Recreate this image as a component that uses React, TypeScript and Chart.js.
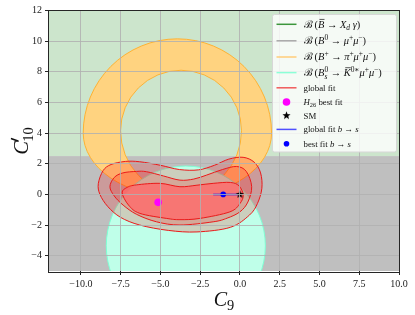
import React, { useEffect, useRef } from 'react';
import { Chart, registerables } from 'chart.js';

Chart.register(...registerables);

// ---------- data ----------
const xRange = [-12, 10];
const yRange = [-5, 12];
const xTicks = [-10, -7.5, -5, -2.5, 0, 2.5, 5, 7.5, 10];
const yTicks = [-4, -2, 0, 2, 4, 6, 8, 10, 12];

// B -> X_d gamma (green) region : C'10 between these values
const greenBand = [2.5, 12];
// B0 -> mu mu (gray) region
const grayBand = [-5, 2.5];

// boundaries: [centre C9, centre C'10, half-width C9, upper half-height, lower half-height]
const orangeOuter = [-3.93, 4.0, 5.92, 6.15, 4.15];
const orangeInner = [-3.7, 4.15, 3.8, 3.95, 4.1];
const cyanEllipse = [-3.4, -3.35, 5.0, 5.2, 5.2];

// global fit contours (outer, middle, inner)
const fit3X = [-8.9, -8.6, -8.1, -7.2, -6.3, -5.0, -3.8, -2.6, -1.6, -0.7, 0.2, 0.9, 1.3, 1.38, 1.1, 0.6, -0.6, -2.7, -4.5, -6.3, -7.5, -8.3, -8.8];
const fit3Y = [0.7, 1.55, 1.95, 2.15, 2.13, 1.9, 1.62, 1.6, 1.9, 2.3, 2.42, 2.1, 1.4, 0.4, -0.6, -1.35, -2.15, -2.45, -2.35, -2.0, -1.5, -0.8, 0.0];
const fit2X = [-8.17, -7.9, -7.36, -6.5, -5.87, -4.8, -3.77, -2.9, -2.09, -1.1, -0.21, 0.4, 0.74, 0.5, 0.0, -0.8, -1.68, -3.77, -5.24, -6.5, -7.34, -7.9];
const fit2Y = [0.5, 1.1, 1.4, 1.5, 1.48, 1.2, 0.93, 1.0, 1.26, 1.62, 1.82, 1.5, 0.5, -0.5, -1.14, -1.55, -1.79, -2.0, -1.79, -1.3, -0.7, -0.1];
const fit1X = [-7.4, -7.1, -6.5, -5.03, -3.77, -2.7, -1.68, -0.6, -0.05, 0.21, 0.0, -0.63, -2.52, -3.77, -4.6, -6.29, -7.0];
const fit1Y = [0.1, 0.45, 0.62, 0.72, 0.5, 0.6, 0.72, 0.78, 0.55, -0.05, -0.6, -1.14, -1.57, -1.65, -1.57, -1.24, -0.7];

const h26Best = [-5.14, -0.52];
const smPoint = [0, 0];
const bsLineX = [-1.68, 0];
const bsLineY = [0, 0];
const bsBest = [-1.05, 0];

type Seg = { t: string; it?: boolean; pos?: 'sup' | 'sub'; bar?: boolean; sub2?: string };

const ARROW = ' \u2192 ';
const CAL = 'ℬ\u2009';
const legendLabels: Seg[][] = [
  [{ t: CAL }, { t: '(' }, { t: 'B', it: true, bar: true }, { t: ARROW }, { t: 'X', it: true }, { t: 'd', it: true, pos: 'sub' }, { t: ' ' }, { t: 'γ', it: true }, { t: ')' }],
  [{ t: CAL }, { t: '(' }, { t: 'B', it: true }, { t: '0', pos: 'sup' }, { t: ARROW }, { t: 'μ', it: true }, { t: '+', pos: 'sup' }, { t: 'μ', it: true }, { t: '−', pos: 'sup' }, { t: ')' }],
  [{ t: CAL }, { t: '(' }, { t: 'B', it: true }, { t: '+', pos: 'sup' }, { t: ARROW }, { t: 'π', it: true }, { t: '+', pos: 'sup' }, { t: 'μ', it: true }, { t: '+', pos: 'sup' }, { t: 'μ', it: true }, { t: '−', pos: 'sup' }, { t: ')' }],
  [{ t: CAL }, { t: '(' }, { t: 'B', it: true }, { t: '0', pos: 'sup', sub2: 's' }, { t: ARROW }, { t: 'K', it: true, bar: true }, { t: '0∗', pos: 'sup' }, { t: 'μ', it: true }, { t: '+', pos: 'sup' }, { t: 'μ', it: true }, { t: '−', pos: 'sup' }, { t: ')' }],
  [{ t: 'global fit' }],
  [{ t: 'H', it: true }, { t: '26', pos: 'sub' }, { t: ' best fit' }],
  [{ t: 'SM' }],
  [{ t: 'global fit ' }, { t: 'b', it: true }, { t: ' → ' }, { t: 's', it: true }],
  [{ t: 'best fit ' }, { t: 'b', it: true }, { t: ' → ' }, { t: 's', it: true }],
];
const legendKinds = ['line', 'line', 'line', 'line', 'line', 'dot', 'star', 'line', 'dot'];
const legendColors = ['rgb(60,150,60)', 'rgb(168,168,168)', 'rgb(255,205,120)', 'rgb(140,255,215)', 'rgb(240,90,90)', '#ff00ff', '#000000', 'rgb(80,80,255)', '#0000ff'];

// ---------- helpers ----------
const FONT = '"Liberation Serif", "DejaVu Serif", serif';

function starCanvas(r: number, color: string) {
  const size = Math.ceil(r * 2 + 2);
  const c = document.createElement('canvas');
  c.width = size;
  c.height = size;
  const g = c.getContext('2d')!;
  g.fillStyle = color;
  g.beginPath();
  for (let k = 0; k < 10; k++) {
    const rad = k % 2 === 0 ? r : r * 0.42;
    const a = -Math.PI / 2 + (k * Math.PI) / 5;
    const px = size / 2 + rad * Math.cos(a);
    const py = size / 2 + rad * Math.sin(a);
    if (k === 0) g.moveTo(px, py);
    else g.lineTo(px, py);
  }
  g.closePath();
  g.fill();
  return c;
}

function segFont(s: Seg, size: number) {
  const fs = s.pos ? size * 0.72 : size;
  return `${s.it ? 'italic ' : ''}${fs}px ${FONT}`;
}

function drawRich(ctx: CanvasRenderingContext2D, segs: Seg[], x: number, y: number, size: number) {
  let cx = x;
  ctx.textBaseline = 'alphabetic';
  ctx.textAlign = 'left';
  for (const s of segs) {
    ctx.font = segFont(s, size);
    let dy = 0;
    if (s.pos === 'sup') dy = -size * 0.38;
    if (s.pos === 'sub') dy = size * 0.22;
    ctx.fillText(s.t, cx, y + dy);
    let w = ctx.measureText(s.t).width;
    if (s.sub2) {
      ctx.font = `italic ${size * 0.72}px ${FONT}`;
      ctx.fillText(s.sub2, cx, y + size * 0.3);
      w = Math.max(w, ctx.measureText(s.sub2).width);
    }
    if (s.bar) {
      ctx.save();
      ctx.strokeStyle = ctx.fillStyle as string;
      ctx.lineWidth = 0.7;
      ctx.beginPath();
      ctx.moveTo(cx + w * 0.22, y - size * 0.8);
      ctx.lineTo(cx + w * 1.02, y - size * 0.8);
      ctx.stroke();
      ctx.restore();
    }
    cx += w;
  }
  return cx - x;
}

function measureRich(ctx: CanvasRenderingContext2D, segs: Seg[], size: number) {
  let w = 0;
  for (const s of segs) {
    ctx.font = segFont(s, size);
    let ww = ctx.measureText(s.t).width;
    if (s.sub2) {
      ctx.font = `italic ${size * 0.72}px ${FONT}`;
      ww = Math.max(ww, ctx.measureText(s.sub2).width);
    }
    w += ww;
  }
  return w;
}

function closedCurve(ctx: CanvasRenderingContext2D, p: { x: number; y: number }[]) {
  const n = p.length;
  ctx.moveTo(p[0].x, p[0].y);
  for (let i = 0; i < n; i++) {
    const p0 = p[(i - 1 + n) % n];
    const p1 = p[i];
    const p2 = p[(i + 1) % n];
    const p3 = p[(i + 2) % n];
    ctx.bezierCurveTo(
      p1.x + (p2.x - p0.x) / 6, p1.y + (p2.y - p0.y) / 6,
      p2.x - (p3.x - p1.x) / 6, p2.y - (p3.y - p1.y) / 6,
      p2.x, p2.y,
    );
  }
  ctx.closePath();
}

const regionsPlugin = {
  id: 'regions',
  beforeDatasetsDraw(chart: any) {
    const { ctx, chartArea: a, scales } = chart;
    const xs = scales.x;
    const ys = scales.y;
    const X = (v: number) => xs.getPixelForValue(v);
    const Y = (v: number) => ys.getPixelForValue(v);
    ctx.save();
    ctx.beginPath();
    ctx.rect(a.left, a.top, a.right - a.left, a.bottom - a.top);
    ctx.clip();
    // green band
    ctx.fillStyle = 'rgb(204,229,204)';
    ctx.fillRect(X(xRange[0]), Y(greenBand[1]), X(xRange[1]) - X(xRange[0]), Y(greenBand[0]) - Y(greenBand[1]));
    // gray band
    ctx.fillStyle = 'rgb(191,191,191)';
    ctx.fillRect(X(xRange[0]), Y(grayBand[1]), X(xRange[1]) - X(xRange[0]), Y(grayBand[0]) - Y(grayBand[1]));
    const ell = (e: number[]) => {
      const cx = X(e[0]);
      const cy = Y(e[1]);
      const rx = Math.abs(X(e[0] + e[2]) - cx);
      const ryU = Math.abs(Y(e[1] + e[3]) - cy);
      const ryL = Math.abs(Y(e[1] - e[4]) - cy);
      ctx.moveTo(cx - rx, cy);
      ctx.ellipse(cx, cy, rx, ryU, 0, Math.PI, 2 * Math.PI);
      ctx.ellipse(cx, cy, rx, ryL, 0, 0, Math.PI);
      ctx.closePath();
    };
    // orange annulus
    ctx.beginPath();
    ell(orangeOuter);
    ell(orangeInner);
    ctx.fillStyle = 'rgb(255,211,128)';
    ctx.fill('evenodd');
    ctx.strokeStyle = 'rgb(255,178,50)';
    ctx.lineWidth = 1;
    ctx.beginPath();
    ell(orangeOuter);
    ctx.stroke();
    ctx.beginPath();
    ell(orangeInner);
    ctx.stroke();
    // cyan ellipse
    ctx.beginPath();
    ell(cyanEllipse);
    ctx.fillStyle = 'rgb(191,255,233)';
    ctx.fill();
    ctx.strokeStyle = 'rgb(127,255,212)';
    ctx.stroke();

    // global fit contours
    const contours = [[fit3X, fit3Y], [fit2X, fit2Y], [fit1X, fit1Y]];
    const fills = ['rgba(255,0,0,0.19)', 'rgba(255,0,0,0.19)', 'rgba(255,105,105,0.8)'];
    contours.forEach(([cxs, cys], k) => {
      const p = cxs.map((v, i) => ({ x: X(v), y: Y(cys[i]) }));
      ctx.beginPath();
      closedCurve(ctx, p);
      ctx.fillStyle = fills[k];
      ctx.fill();
      ctx.strokeStyle = 'rgb(235,25,25)';
      ctx.lineWidth = 1;
      ctx.stroke();
    });
    ctx.restore();
  },
};

const framePlugin = {
  id: 'frame',
  afterDraw(chart: any) {
    const { ctx, chartArea: a } = chart;
    ctx.save();
    ctx.strokeStyle = '#262626';
    ctx.lineWidth = 1;
    ctx.strokeRect(Math.round(a.left) - 0.5, Math.round(a.top) - 0.5, Math.round(a.right - a.left) + 1, Math.round(a.bottom - a.top) + 1);

    // legend
    const lx = 272.5, ly = 14.5, lw = 124, lh = 137.5;
    ctx.fillStyle = 'rgba(255,255,255,0.8)';
    ctx.strokeStyle = 'rgb(215,215,215)';
    ctx.lineWidth = 1;
    ctx.beginPath();
    (ctx as any).roundRect(lx, ly, lw, lh, 2);
    ctx.fill();
    ctx.stroke();
    const rows = [24.3, 40.8, 57.0, 72.6, 87.8, 102.0, 115.6, 129.4, 143.8];
    legendLabels.forEach((segs, i) => {
      const yc = rows[i];
      const kind = legendKinds[i];
      const col = legendColors[i];
      if (kind === 'line') {
        ctx.strokeStyle = col;
        ctx.lineWidth = 1.5;
        ctx.beginPath();
        ctx.moveTo(276.5, yc);
        ctx.lineTo(296.5, yc);
        ctx.stroke();
      } else if (kind === 'dot') {
        ctx.fillStyle = col;
        ctx.beginPath();
        ctx.arc(286.5, yc, i === 5 ? 3.8 : 2.8, 0, Math.PI * 2);
        ctx.fill();
      } else {
        const st = starCanvas(4.3, col);
        ctx.drawImage(st, 286.5 - st.width / 2, yc - st.height / 2);
      }
      ctx.fillStyle = '#111';
      const size = i < 4 ? 10.4 : 8.8;
      drawRich(ctx, segs, 303.5, yc + size * 0.33, size);
    });

    // axis titles
    ctx.fillStyle = '#111';
    const xt: Seg[] = [{ t: 'C', it: true }, { t: '9', pos: 'sub' }];
    const xsz = 20;
    const xw = measureRich(ctx, xt, xsz);
    drawRich(ctx, xt, (a.left + a.right) / 2 - xw / 2, 306, xsz);

    ctx.save();
    ctx.font = `italic ${xsz}px ${FONT}`;
    const cw = ctx.measureText('C').width;
    ctx.font = `${xsz * 0.72}px ${FONT}`;
    const tw = ctx.measureText('10').width;
    const total = cw + tw;
    ctx.translate(28, (a.top + a.bottom) / 2 + total / 2);
    ctx.rotate(-Math.PI / 2);
    ctx.textBaseline = 'alphabetic';
    ctx.textAlign = 'left';
    ctx.font = `italic ${xsz}px ${FONT}`;
    ctx.fillText('C', 0, 0);
    // prime
    ctx.beginPath();
    ctx.moveTo(cw + 0.2, -xsz * 0.5);
    ctx.lineTo(cw + 2.6, -xsz * 0.82);
    ctx.lineWidth = 1.6;
    ctx.strokeStyle = '#111';
    ctx.lineCap = 'round';
    ctx.stroke();
    ctx.font = `${xsz * 0.72}px ${FONT}`;
    ctx.fillText('10', cw - 0.5, xsz * 0.25);
    ctx.restore();
    ctx.restore();
  },
};

function pts(xs: number[], ys: number[]) {
  return xs.map((x, i) => ({ x, y: ys[i] }));
}

export default function App() {
  const ref = useRef<HTMLCanvasElement>(null);
  useEffect(() => {
    document.body.style.margin = '0';
    const star = starCanvas(4.3, '#000000');
    const chart = new Chart(ref.current!, {
      type: 'line',
      data: {
        datasets: [
          {
            type: 'line',
            data: pts(bsLineX, bsLineY),
            borderColor: '#0000ff',
            borderWidth: 1.5,
            pointRadius: 0,
            fill: false,
            order: 4,
          },
          {
            type: 'scatter',
            data: [{ x: bsBest[0], y: bsBest[1] }],
            backgroundColor: '#0000ff',
            borderWidth: 0,
            pointRadius: 2.8,
            order: 3,
          },
          {
            type: 'scatter',
            data: [{ x: h26Best[0], y: h26Best[1] }],
            backgroundColor: '#ff00ff',
            borderWidth: 0,
            pointRadius: 3.8,
            order: 3,
          },
          {
            type: 'scatter',
            data: [{ x: smPoint[0], y: smPoint[1] }],
            pointStyle: star as any,
            pointRadius: 4,
            order: 1,
          },
        ] as any,
      },
      options: {
        animation: false,
        responsive: false,
        devicePixelRatio: 1,
        layout: { padding: { top: 10.5, right: 16, left: 0, bottom: 0 } },
        plugins: { legend: { display: false }, tooltip: { enabled: false } },
        scales: {
          x: {
            type: 'linear',
            min: xRange[0],
            max: xRange[1],
            afterBuildTicks: (s: any) => { s.ticks = xTicks.map((v) => ({ value: v })); },
            afterFit: (s: any) => { s.height = 44; },
            border: { display: false },
            grid: { color: 'rgba(176,176,176,0.85)', lineWidth: 1, tickLength: 4, tickColor: '#262626', z: 1 },
            ticks: {
              font: { family: FONT, size: 10 },
              color: '#222',
              padding: 3,
              maxRotation: 0,
              autoSkip: false,
              callback: (v: any) => Number(v).toFixed(1).replace('-', '−'),
            },
          },
          y: {
            type: 'linear',
            min: yRange[0],
            max: yRange[1],
            afterBuildTicks: (s: any) => { s.ticks = yTicks.map((v) => ({ value: v })); },
            afterFit: (s: any) => { s.width = 49; },
            border: { display: false },
            grid: { color: 'rgba(176,176,176,0.85)', lineWidth: 1, tickLength: 4, tickColor: '#262626', z: 1 },
            ticks: {
              font: { family: FONT, size: 10 },
              color: '#222',
              padding: 3,
              autoSkip: false,
              callback: (v: any) => String(v).replace('-', '−'),
            },
          },
        },
      } as any,
      plugins: [regionsPlugin, framePlugin],
    });
    return () => chart.destroy();
  }, []);
  return (
    <div style={{ position: 'absolute', left: 0, top: 0, width: 415, height: 315 }}>
      <canvas ref={ref} width={415} height={315} style={{ width: 415, height: 315 }} />
    </div>
  );
}
